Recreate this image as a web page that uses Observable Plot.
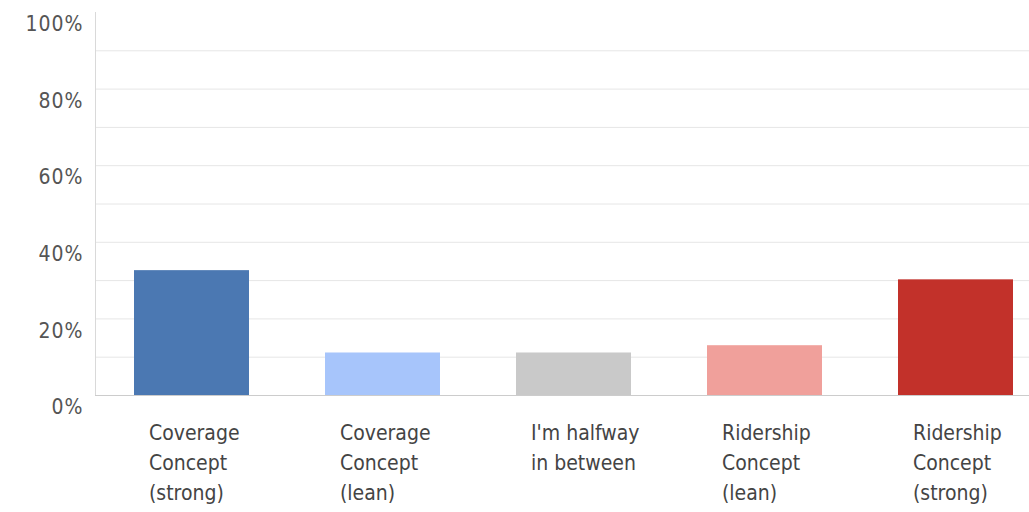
<!DOCTYPE html>
<html><head><meta charset="utf-8">
<script src="https://cdn.jsdelivr.net/npm/d3@7"></script>
<script src="https://cdn.jsdelivr.net/npm/@observablehq/plot@0.6"></script>
<style>
body{margin:0;background:#fff;}
svg{display:block;}
g[aria-label="y-axis tick label"] text{letter-spacing:1px;}
</style>
</head><body><div id="chart"></div>
<script>
const categories = [
  "Coverage Concept (strong)",
  "Coverage Concept (lean)",
  "I'm halfway in between",
  "Ridership Concept (lean)",
  "Ridership Concept (strong)"
];
const tickLabels = [
  "Coverage\nConcept\n(strong)",
  "Coverage\nConcept\n(lean)",
  "I'm halfway\nin between",
  "Ridership\nConcept\n(lean)",
  "Ridership\nConcept\n(strong)"
];
const values = [32.6, 11.1, 11.1, 13.0, 30.2];
const colors = ["#4b78b2", "#a7c5fb", "#c9c9c9", "#f0a09b", "#c2312a"];
const yTicks = [0, 20, 40, 60, 80, 100];
const gridTicks = [10, 20, 30, 40, 50, 60, 70, 80, 90];

const data = categories.map((c, i) => ({category: c, value: values[i]}));
const labelOf = new Map(categories.map((c, i) => [c, tickLabels[i]]));

const font = "'DejaVu Sans Condensed', 'DejaVu Sans', sans-serif";

const chart = Plot.plot({
  width: 1029,
  height: 512,
  marginTop: 12,
  marginBottom: 117,
  marginLeft: 95,
  marginRight: 0,
  style: {fontFamily: font, background: "#fff"},
  x: {domain: categories, paddingInner: 0.4, paddingOuter: 0.141, align: 0.704, axis: null, label: null},
  y: {domain: [0, 100], axis: null, label: null},
  color: {domain: categories, range: colors},
  marks: [
    Plot.gridY(gridTicks, {stroke: "#e6e6e6", strokeOpacity: 1}),
    Plot.frame({anchor: "left", stroke: "#d9d9d9"}),
    Plot.barY(data, {x: "category", y: "value", fill: "category"}),
    Plot.ruleY([0], {stroke: "#cccccc"}),
    Plot.axisY(yTicks, {
      tickSize: 0, tickPadding: 12, dy: 12, fontSize: 21, fill: "#555",
      label: null, tickFormat: d => d + "%"
    }),
    Plot.axisX({
      tickSize: 0, tickPadding: 23, textAnchor: "start", dx: -43,
      lineAnchor: "top", lineHeight: 1.43, fontSize: 21, fill: "#444",
      label: null, tickFormat: d => labelOf.get(d)
    })
  ]
});
document.getElementById("chart").appendChild(chart);
</script>
</body></html>
